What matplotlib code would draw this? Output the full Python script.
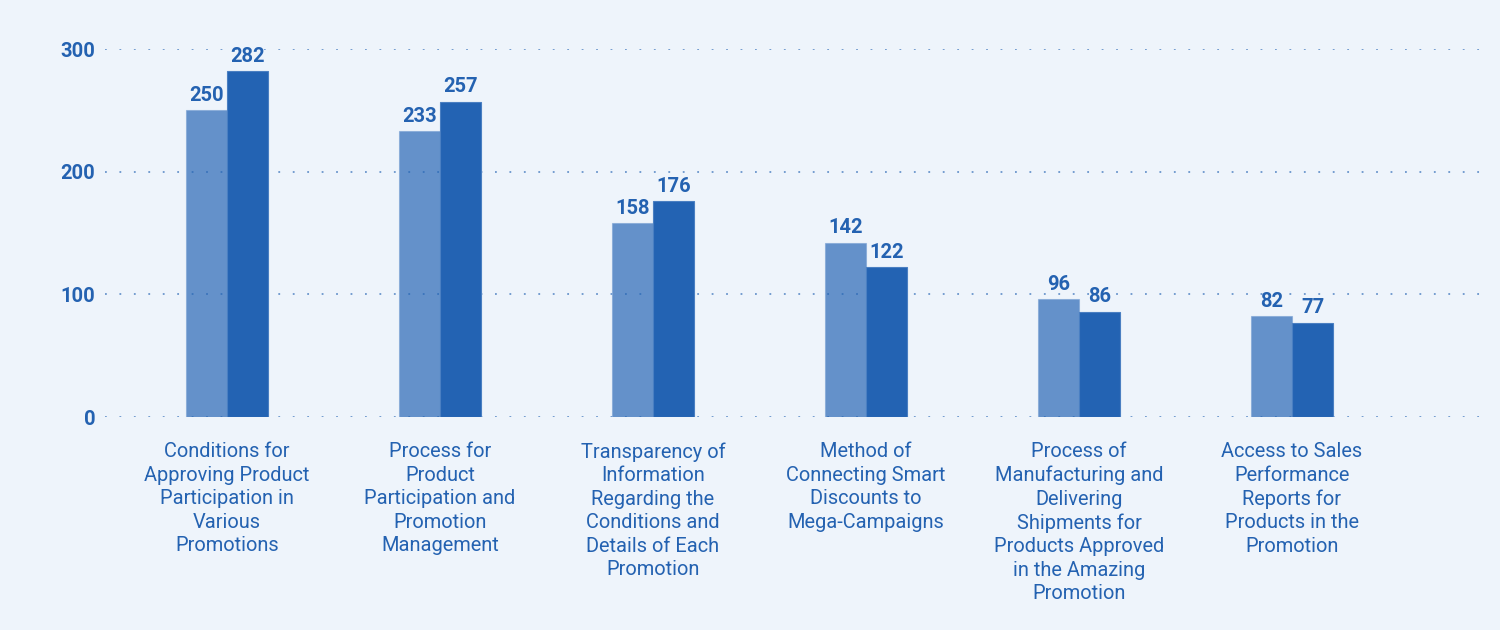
import matplotlib
matplotlib.use('Agg')
import matplotlib.pyplot as plt
import numpy as np

plt.rcParams['font.family'] = ['Roboto', 'DejaVu Sans']

categories = [
    'Conditions for\nApproving Product\nParticipation in\nVarious\nPromotions',
    'Process for\nProduct\nParticipation and\nPromotion\nManagement',
    'Transparency of\nInformation\nRegarding the\nConditions and\nDetails of Each\nPromotion',
    'Method of\nConnecting Smart\nDiscounts to\nMega-Campaigns',
    'Process of\nManufacturing and\nDelivering\nShipments for\nProducts Approved\nin the Amazing\nPromotion',
    'Access to Sales\nPerformance\nReports for\nProducts in the\nPromotion',
]
series_a = [250, 233, 158, 142, 96, 82]
series_b = [282, 257, 176, 122, 86, 77]
yticks = [0, 100, 200, 300]

bg = '#eef4fb'
blue = '#2363b3'
text_color = '#2462b1'

fig = plt.figure(figsize=(15, 6.3), dpi=100, facecolor=bg)
ax = fig.add_axes([0.07, 0.338, 0.9167, 0.584])
ax.set_facecolor(bg)

x = np.arange(len(categories))
w = 0.193
bars_a = ax.bar(x - w / 2, series_a, w, color=blue, alpha=0.68,
                edgecolor='#7fa5d6', linewidth=0.8)
bars_b = ax.bar(x + w / 2, series_b, w, color=blue,
                edgecolor='#4a7fc2', linewidth=0.8)

# value labels
for bars in (bars_a, bars_b):
    for b in bars:
        ax.text(b.get_x() + b.get_width() / 2, b.get_height() + 4.5,
                str(int(b.get_height())), ha='center', va='bottom',
                fontsize=14.5, fontweight='bold', color=text_color,
                clip_on=False)

ax.set_xlim(-0.573, 5.883)
ax.set_ylim(0, 300)
ax.set_yticks(yticks)
ax.set_yticklabels([str(t) for t in yticks], fontsize=14.5,
                   fontweight='bold', color=text_color)
ax.set_xticks(x)
ax.set_xticklabels(categories, fontsize=14.4, color=text_color,
                   linespacing=1.3, va='top')
ax.tick_params(axis='both', length=0)
ax.tick_params(axis='y', pad=7)
ax.tick_params(axis='x', pad=18)

ax.set_axisbelow(True)
ax.grid(axis='y', linestyle=(0, (1, 7)), linewidth=1.3, color='#6a95cc')
ax.grid(axis='x', visible=False)
for s in ax.spines.values():
    s.set_visible(False)

fig.savefig('out.png', dpi=100, facecolor=bg)
